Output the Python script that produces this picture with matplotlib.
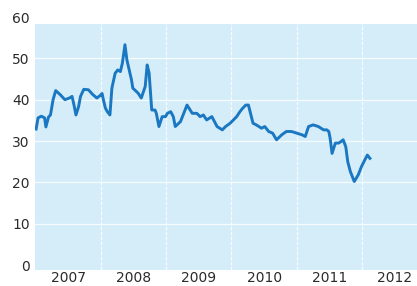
import matplotlib
matplotlib.use('Agg')
import matplotlib.pyplot as plt
import numpy as np

# price series (decimal year, value)
years = [2007.01, 2007.04, 2007.09, 2007.14, 2007.16, 2007.20, 2007.23, 2007.27,
         2007.31, 2007.38, 2007.45, 2007.52, 2007.56, 2007.59, 2007.62, 2007.66,
         2007.69, 2007.74, 2007.81, 2007.88, 2007.94, 2007.99, 2008.02, 2008.04,
         2008.07, 2008.10, 2008.14, 2008.17, 2008.22, 2008.26, 2008.30, 2008.33,
         2008.37, 2008.40, 2008.47, 2008.49, 2008.57, 2008.62, 2008.68, 2008.71,
         2008.74, 2008.78, 2008.83, 2008.85, 2008.89, 2008.94, 2008.99, 2009.02,
         2009.07, 2009.11, 2009.14, 2009.22, 2009.27, 2009.32, 2009.40, 2009.47,
         2009.52, 2009.57, 2009.62, 2009.70, 2009.78, 2009.86, 2009.91, 2009.98,
         2010.03, 2010.08, 2010.13, 2010.17, 2010.22, 2010.26, 2010.33, 2010.38,
         2010.46, 2010.51, 2010.57, 2010.63, 2010.69, 2010.77, 2010.84, 2010.92,
         2011.00, 2011.08, 2011.13, 2011.18, 2011.25, 2011.33, 2011.41, 2011.46,
         2011.49, 2011.51, 2011.54, 2011.59, 2011.64, 2011.68, 2011.71, 2011.75,
         2011.78, 2011.82, 2011.88, 2011.94, 2011.99, 2012.04, 2012.08, 2012.12]
price = [32.9, 35.6, 36.0, 35.6, 33.4, 35.8, 36.3, 40.0,
         42.2, 41.2, 40.0, 40.4, 40.8, 38.7, 36.3, 38.3,
         40.8, 42.5, 42.4, 41.2, 40.4, 41.0, 41.5, 40.0,
         38.0, 37.1, 36.3, 42.8, 46.4, 47.2, 46.8, 48.8,
         53.3, 49.6, 44.8, 42.8, 41.6, 40.4, 43.2, 48.4,
         46.4, 37.5, 37.5, 36.7, 33.5, 35.9, 35.9, 36.7,
         37.1, 35.9, 33.5, 34.7, 36.7, 38.7, 36.7, 36.7,
         35.9, 36.3, 35.1, 35.9, 33.5, 32.7, 33.5, 34.3,
         35.1, 35.9, 37.1, 37.9, 38.7, 38.7, 34.3, 33.9,
         33.1, 33.5, 32.3, 31.9, 30.3, 31.5, 32.3, 32.3,
         31.9, 31.5, 31.1, 33.5, 33.9, 33.5, 32.7, 32.7,
         32.3, 30.7, 27.0, 29.5, 29.5, 29.9, 30.3, 28.6,
         25.0, 22.6, 20.2, 21.8, 23.8, 25.4, 26.6, 25.8]
year_labels = ['2007', '2008', '2009', '2010', '2011', '2012']
y_ticks = [0, 10, 20, 30, 40, 50, 60]

fig = plt.figure(figsize=(4.17, 2.86), dpi=100)
ax = fig.add_axes([0.085, 0.056, 0.915, 0.899])

ymin, ymax, shade_top = -1.2, 61, 58.3
xmin, xmax = 2007.0, 2012.84
ax.set_xlim(xmin, xmax)
ax.set_ylim(ymin, ymax)

# light blue panel (top of it cut off below the 60 label, like the scan)
ax.axhspan(ymin, shade_top, color='#d4edf9', zorder=0, lw=0)

for v in y_ticks[1:-1]:
    ax.axhline(v, color='white', lw=0.9, alpha=0.8, zorder=1)
for yr in range(2008, 2013):
    ax.plot([yr, yr], [ymin, shade_top], color='white', lw=0.9, alpha=0.8,
            ls=(0, (3, 1)), zorder=1)

ax.plot(years, price, color='#1a77c2', lw=2.1, solid_joinstyle='round', zorder=3)

ax.set_yticks(y_ticks)
ax.set_yticklabels([str(v) for v in y_ticks])
ax.set_xticks([2007.5 + i for i in range(len(year_labels))])
ax.set_xticklabels(year_labels)
ax.tick_params(length=0, labelsize=10, colors='#2b2b2b', pad=4)
ax.tick_params(axis='x', pad=0.5)
for s in ax.spines.values():
    s.set_visible(False)

fig.savefig('out.png', dpi=100)
